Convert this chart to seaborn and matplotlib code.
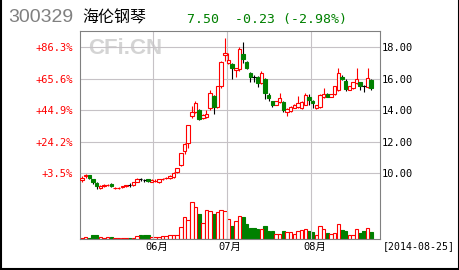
import numpy as np
import pandas as pd
import matplotlib
matplotlib.use("Agg")
import matplotlib.pyplot as plt
from matplotlib.lines import Line2D
from matplotlib.ticker import FuncFormatter
import seaborn as sns

# ---------------- data ----------------
code = "300329"
name = "海伦钢琴"
last_price = "7.50"
change = "-0.23"
change_pct = "(-2.98%)"
date_label = "[2014-08-25]"
base_price = 9.66          # reference price for the % scale

start_date = "2014-05-05"
end_date = "2014-08-25"
holidays = ["2014-06-02"]
month_labels = ["06月", "07月", "08月"]

opens = [9.55, 9.80, 9.85, 9.60, 9.35, 9.05, 9.20, 9.22, 9.30, 9.05,
         9.05, 9.10, 9.18, 9.27, 9.25, 9.45, 9.60, 9.58, 9.60, 9.45,
         9.50, 9.40, 9.60, 9.68, 9.70, 9.75, 10.05, 10.50, 11.40, 11.90,
         13.60, 13.90, 14.00, 13.50, 13.55, 14.10, 14.90, 14.20, 15.50, 17.50,
         17.00, 16.95, 16.55, 16.60, 17.55, 17.05, 16.35, 16.10, 16.10, 15.70,
         16.00, 14.95, 14.55, 14.35, 14.50, 14.50, 13.85, 13.95, 14.15, 14.20,
         14.10, 14.35, 14.80, 14.60, 14.10, 14.20, 14.80, 15.05, 14.85, 15.00,
         15.30, 16.10, 15.85, 15.30, 15.40, 15.70, 15.75, 15.50, 15.45, 15.90]
highs = [9.80, 9.95, 9.90, 9.65, 9.40, 9.25, 9.30, 9.30, 9.35, 9.10,
         9.10, 9.20, 9.25, 9.35, 9.45, 9.70, 9.70, 9.65, 9.62, 9.65,
         9.60, 9.62, 9.70, 9.75, 9.85, 10.05, 10.30, 11.30, 11.90, 13.05,
         14.25, 14.60, 14.05, 13.75, 14.00, 15.30, 14.95, 15.55, 17.10, 18.55,
         17.60, 17.00, 16.70, 18.00, 18.30, 17.10, 16.40, 16.20, 16.15, 16.45,
         16.05, 15.10, 14.60, 14.60, 15.10, 14.55, 14.10, 14.25, 14.40, 14.90,
         14.55, 15.10, 15.00, 14.65, 14.35, 15.00, 15.40, 15.10, 15.05, 15.55,
         16.70, 16.20, 16.00, 15.55, 15.80, 16.70, 15.80, 15.60, 16.65, 16.00]
lows = [9.45, 9.70, 9.60, 9.30, 9.00, 9.00, 9.10, 9.15, 9.10, 9.00,
        9.00, 9.05, 9.12, 9.10, 9.20, 9.40, 9.50, 9.45, 9.45, 9.40,
        9.40, 9.35, 9.55, 9.62, 9.65, 9.70, 10.00, 10.45, 11.20, 11.60,
        13.50, 13.80, 13.35, 13.40, 13.50, 14.00, 13.75, 14.10, 15.40, 17.10,
        16.90, 16.00, 16.10, 16.50, 17.00, 16.60, 15.80, 15.75, 15.45, 15.65,
        14.70, 14.60, 14.20, 14.30, 14.45, 13.90, 13.65, 13.90, 14.10, 14.15,
        14.05, 14.30, 14.30, 14.10, 14.05, 14.15, 14.75, 14.80, 14.80, 14.95,
        15.20, 15.90, 15.20, 15.25, 15.35, 15.65, 15.25, 15.15, 15.40, 15.30]
closes = [9.70, 9.85, 9.70, 9.45, 9.20, 9.20, 9.21, 9.24, 9.15, 9.07,
          9.08, 9.18, 9.22, 9.27, 9.40, 9.65, 9.60, 9.58, 9.50, 9.55,
          9.52, 9.60, 9.65, 9.70, 9.80, 10.00, 10.30, 11.25, 11.85, 13.05,
          13.90, 14.45, 13.40, 13.70, 13.75, 15.10, 14.20, 15.50, 17.05, 17.60,
          17.20, 16.70, 16.65, 17.90, 17.25, 16.65, 16.10, 16.10, 15.70, 16.35,
          15.10, 14.75, 14.30, 14.55, 14.75, 14.00, 14.05, 14.20, 14.35, 14.45,
          14.50, 14.95, 14.65, 14.45, 14.30, 14.95, 15.00, 14.85, 15.00, 15.50,
          16.35, 15.95, 15.35, 15.50, 15.75, 15.95, 15.50, 15.50, 16.05, 15.40]
volumes = [1.0, 1.5, 1.0, 3.5, 3.5, 2.0, 1.0, 1.5, 1.5, 1.2,
           1.2, 1.2, 1.2, 1.2, 1.2, 3.3, 4.0, 4.0, 3.5, 1.5,
           1.5, 1.5, 2.5, 3.0, 3.5, 4.0, 4.0, 12, 22, 19,
           37, 32, 25, 16, 29, 28, 25, 27, 29, 28,
           20, 13, 18, 23, 22, 15, 11, 11, 10, 10,
           13, 8, 8, 5, 5, 8, 7, 7, 5, 8,
           9, 10, 8, 7, 4, 13, 10, 6, 5, 6,
           15, 9, 8, 4, 4, 10, 6, 8, 11, 7]
price_ticks = [10, 12, 14, 16, 18]

# ---------------- style ----------------
RED = "#ff0000"
GREEN = "#008000"
GRID = "#c6c2c6"
SPINE = "#808080"
MONO = ["DejaVu Sans Mono", "Noto Sans CJK SC"]

sns.set_style("white")
plt.rcParams["font.family"] = MONO

W, H = 460, 270
fig = plt.figure(figsize=(W / 100, H / 100), dpi=100)
fig.patch.set_facecolor("white")

L, R, T, B = 80, 380, 31, 239
ax = fig.add_axes([L / W, 1 - B / H, (R - L) / W, (B - T) / H])
axv = ax.twinx()
ax.set_zorder(axv.get_zorder() + 1)
ax.patch.set_visible(False)

dates = pd.bdate_range(start_date, end_date)
dates = dates[~dates.isin(pd.to_datetime(holidays))]
n = len(dates)
x = np.arange(n)
o = np.array(opens)
c = np.array(closes)
hi = np.array(highs)
lo = np.array(lows)

df = pd.DataFrame({"idx": x, "vol": volumes, "up": c > o})

# ---------------- volume (seaborn) ----------------
sns.barplot(data=df[~df.up], x="idx", y="vol", native_scale=True, width=0.95,
            color=GREEN, saturation=1, edgecolor=GREEN, linewidth=0.8,
            errorbar=None, ax=axv)
sns.barplot(data=df[df.up], x="idx", y="vol", native_scale=True, width=0.95,
            color="white", saturation=1, edgecolor=RED, linewidth=0.8,
            errorbar=None, ax=axv)
axv.set_ylim(0, max(volumes) / 0.178)
axv.set_xlabel("")
axv.set_ylabel("")
axv.set_yticks([])
for s in axv.spines.values():
    s.set_visible(False)

# ---------------- candles ----------------
up = c > o
dn = c < o
dj = c == o
wick_cols = np.where(up, RED, "black")
ax.vlines(x, lo, hi, colors=wick_cols, linewidth=0.8, zorder=2)
bb = np.minimum(o, c)
bh = np.maximum(np.abs(c - o), 0.005)
ax.bar(x[up], bh[up], bottom=bb[up], width=0.95, facecolor="white",
       edgecolor=RED, linewidth=0.8, zorder=3)
ax.bar(x[dn], bh[dn], bottom=bb[dn], width=0.95, facecolor=GREEN,
       edgecolor=GREEN, linewidth=0.8, zorder=3)
ax.hlines(c[dj], x[dj] - 0.47, x[dj] + 0.47, colors="black", linewidth=0.8, zorder=3)

# ---------------- axes ----------------
ax.set_xlim(-0.55, 81.4)
ax.set_ylim(5.81, 19.02)

month_start = np.where(np.r_[False, dates.month[1:] != dates.month[:-1]])[0]
for m in month_start:
    ax.axvline(m - 0.5, color=GRID, linewidth=0.8, zorder=0)
for p in price_ticks:
    ax.axhline(p, color=GRID, linewidth=0.8, zorder=0)

ax.set_xticks(month_start + 0.5)
ax.set_xticklabels(month_labels)
ax.tick_params(axis="x", length=0, pad=2, labelsize=7.5, colors="black")

ax.yaxis.tick_right()
ax.set_yticks(price_ticks)
ax.yaxis.set_major_formatter(FuncFormatter(lambda v, _: f"{v:.2f}"))
ax.tick_params(axis="y", length=0, pad=1.5, labelsize=7.5, colors="black")

pct = lambda p: (p / base_price - 1) * 100
inv = lambda q: (q / 100 + 1) * base_price
sec = ax.secondary_yaxis("left", functions=(pct, inv))
sec.set_yticks([pct(p) for p in price_ticks])
sec.yaxis.set_major_formatter(FuncFormatter(lambda v, _: f"{v:+.1f}%"))
sec.tick_params(axis="y", length=0, pad=5, labelsize=7.5, colors=RED)
for s in sec.spines.values():
    s.set_visible(False)

for s in ax.spines.values():
    s.set_visible(True)
    s.set_color(SPINE)
    s.set_linewidth(0.8)
ax.set_xlabel("")
ax.set_ylabel("")

# ---------------- texts ----------------
fig.text(8 / W, 1 - 18 / H, code, ha="left", va="center", fontsize=14,
         color="#808080", family="Liberation Sans")
fig.text(82 / W, 1 - 18 / H, name, ha="left", va="center", fontsize=11.5,
         color="black", family="Noto Sans CJK SC")
fig.text(187 / W, 1 - 19 / H, f"{last_price}  {change} {change_pct}",
         ha="left", va="center", fontsize=9.5, color=GREEN, family=MONO)
fig.text(383 / W, 1 - 246 / H, date_label, ha="left", va="center",
         fontsize=7.1, color="black", family=MONO)
fig.text(88 / W, 1 - 48 / H, "CFi.CN", ha="left", va="center", fontsize=16,
         fontweight="bold", color="#d4d4d4", family="Liberation Sans", zorder=0)

# outer frame
for xs, ys in [([0.002, 0.002], [0, 1]), ([0, 1], [0.004, 0.004]),
               ([0.998, 0.998], [0, 1])]:
    fig.add_artist(Line2D(xs, ys, transform=fig.transFigure, color="black",
                          linewidth=1.5))

fig.savefig("out.png", dpi=100)
